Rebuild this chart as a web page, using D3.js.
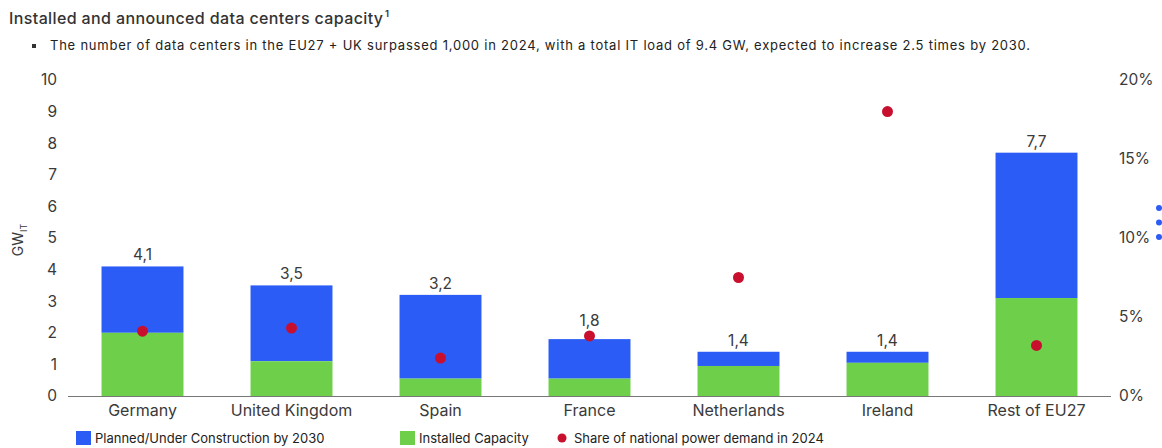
<!DOCTYPE html>
<html>
<head>
<meta charset="utf-8">
<script src="https://cdn.jsdelivr.net/npm/d3@7"></script>
<style>
  body { margin: 0; background: #fff; }
  svg { display: block; font-family: "Inter", "Lato", sans-serif; }
</style>
</head>
<body>
<svg id="chart" width="1162" height="448"></svg>
<script>
const countries = ["Germany", "United Kingdom", "Spain", "France", "Netherlands", "Ireland", "Rest of EU27"];
const installed = [2.0, 1.1, 0.55, 0.55, 0.95, 1.05, 3.1];
const totals = [4.1, 3.5, 3.2, 1.8, 1.4, 1.4, 7.7];
const shareOfDemand = [4.1, 4.3, 2.4, 3.8, 7.5, 18.0, 3.2];
const leftTicks = [0, 1, 2, 3, 4, 5, 6, 7, 8, 9, 10];
const rightTicks = [0, 5, 10, 15, 20];

const blue = "#2b5cf6";
const green = "#6dcf4a";
const red = "#c8102e";
const textColor = "#3a3a3a";

const svg = d3.select("#chart");

// title
svg.append("text")
  .attr("x", 9).attr("y", 24)
  .attr("font-size", 16).attr("font-weight", 500).attr("fill", "#333")
  .attr("textLength", 374).attr("lengthAdjust", "spacing")
  .text("Installed and announced data centers capacity");
svg.append("text")
  .attr("x", 385).attr("y", 17)
  .attr("font-size", 9.5).attr("font-weight", 600).attr("fill", "#333")
  .text("1");

svg.append("rect").attr("x", 32).attr("y", 44).attr("width", 4).attr("height", 4).attr("fill", "#333");
svg.append("text")
  .attr("x", 50).attr("y", 50)
  .attr("font-size", 13).attr("fill", "#222")
  .attr("textLength", 980).attr("lengthAdjust", "spacing")
  .text("The number of data centers in the EU27 + UK surpassed 1,000 in 2024, with a total IT load of 9.4 GW, expected to increase 2.5 times by 2030.");

// scales
const x = d3.scaleBand()
  .domain(countries)
  .range([68, 1111])
  .paddingInner(0.45)
  .paddingOuter(0.225);

const y = d3.scaleLinear().domain([0, 10]).range([396, 80]);
const yRight = d3.scaleLinear().domain([0, 20]).range([396, 80]);

// left axis labels
svg.append("g").selectAll("text")
  .data(leftTicks)
  .join("text")
  .attr("x", 57).attr("y", d => y(d))
  .attr("dy", "0.35em")
  .attr("text-anchor", "end")
  .attr("font-size", 15.5).attr("fill", textColor)
  .text(d => d);

// right axis labels
svg.append("g").selectAll("text")
  .data(rightTicks)
  .join("text")
  .attr("x", 1119).attr("y", d => yRight(d))
  .attr("dy", "0.35em")
  .attr("font-size", 15.5).attr("fill", textColor)
  .text(d => d + "%");

// y title
const yTitle = svg.append("text")
  .attr("transform", "translate(23,240) rotate(-90)")
  .attr("text-anchor", "middle")
  .attr("font-size", 14).attr("fill", textColor);
yTitle.append("tspan").text("GW");
yTitle.append("tspan").attr("font-size", 9).attr("dy", 4).text("IT");

// bars
const bars = svg.append("g").selectAll("g")
  .data(countries)
  .join("g");

bars.append("rect")
  .attr("x", d => x(d))
  .attr("width", x.bandwidth())
  .attr("y", (d, i) => y(totals[i]))
  .attr("height", (d, i) => y(installed[i]) - y(totals[i]))
  .attr("fill", blue);

bars.append("rect")
  .attr("x", d => x(d))
  .attr("width", x.bandwidth())
  .attr("y", (d, i) => y(installed[i]))
  .attr("height", (d, i) => y(0) - y(installed[i]))
  .attr("fill", green);

// total labels, lifted above the dot when it sits on the bar top
bars.append("text")
  .attr("x", d => x(d) + x.bandwidth() / 2)
  .attr("y", (d, i) => {
    const top = y(totals[i]) - 6;
    const dot = yRight(shareOfDemand[i]);
    return Math.abs(dot - y(totals[i])) < 14 ? Math.min(top, dot - 10) : top;
  })
  .attr("text-anchor", "middle")
  .attr("font-size", 15.5).attr("fill", textColor)
  .text((d, i) => String(totals[i]).replace(".", ","));

// baseline
svg.append("line")
  .attr("x1", 68).attr("x2", 1111)
  .attr("y1", y(0) + 0.5).attr("y2", y(0) + 0.5)
  .attr("stroke", "#777").attr("stroke-width", 1);

// category labels
svg.append("g").selectAll("text")
  .data(countries)
  .join("text")
  .attr("x", d => x(d) + x.bandwidth() / 2)
  .attr("y", 416)
  .attr("text-anchor", "middle")
  .attr("font-size", 16).attr("fill", textColor)
  .text(d => d);

// share dots
svg.append("g").selectAll("circle")
  .data(countries)
  .join("circle")
  .attr("cx", d => x(d) + x.bandwidth() / 2)
  .attr("cy", (d, i) => yRight(shareOfDemand[i]))
  .attr("r", 5.5)
  .attr("fill", red);

// legend
const legend = svg.append("g").attr("transform", "translate(0,438)");
const legendItems = [
  { label: "Planned/Under Construction by 2030", color: blue, x: 76, shape: "rect" },
  { label: "Installed Capacity", color: green, x: 400, shape: "rect" },
  { label: "Share of national power demand in 2024", color: red, x: 557, shape: "circle" }
];
legendItems.forEach(item => {
  if (item.shape === "rect") {
    legend.append("rect").attr("x", item.x).attr("y", -7).attr("width", 15).attr("height", 14).attr("fill", item.color);
  } else {
    legend.append("circle").attr("cx", item.x + 5).attr("cy", 0).attr("r", 4.5).attr("fill", item.color);
  }
  legend.append("text")
    .attr("x", item.x + (item.shape === "rect" ? 19 : 17))
    .attr("y", 0).attr("dy", "0.35em")
    .attr("font-size", 13).attr("fill", "#222")
    .text(item.label);
});

// page dots at the right edge
svg.append("g").selectAll("circle")
  .data([0, 1, 2])
  .join("circle")
  .attr("cx", 1159).attr("cy", d => 208 + d * 14.5)
  .attr("r", 3).attr("fill", blue);
</script>
</body>
</html>
